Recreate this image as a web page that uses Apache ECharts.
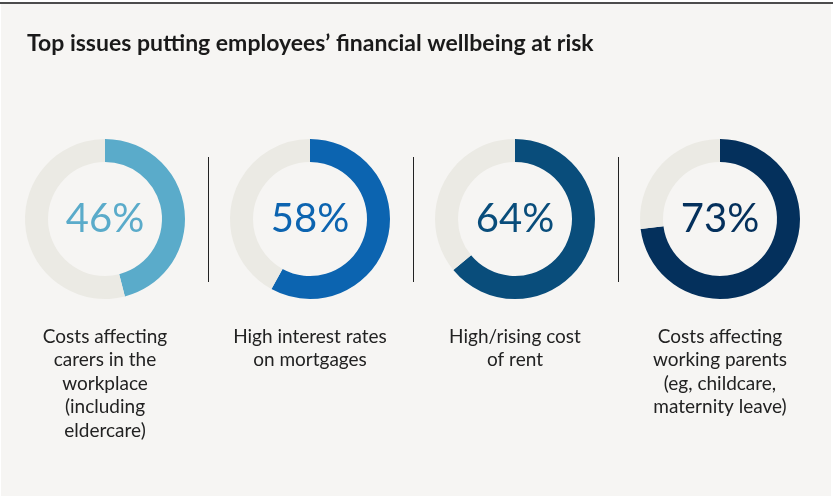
<!DOCTYPE html>
<html>
<head>
<meta charset="utf-8">
<script src="https://cdn.jsdelivr.net/npm/echarts@6/dist/echarts.min.js"></script>
<style>
  html, body { margin: 0; padding: 0; background: #ffffff; }
  #chart { width: 833px; height: 497px; }
</style>
</head>
<body>
<div id="chart"></div>
<script>
// Survey results: share of respondents naming each issue
const chartTitle = 'Top issues putting employees\u2019 financial wellbeing at risk';
const categories = [
  'Costs affecting\ncarers in the\nworkplace\n(including\neldercare)',
  'High interest rates\non mortgages',
  'High/rising cost\nof rent',
  'Costs affecting\nworking parents\n(eg, childcare,\nmaternity leave)'
];
const percentages = [46, 58, 64, 73];
const ringColors = ['#5aabca', '#0c64b0', '#094d7b', '#04305c'];

const trackColor = '#ebeae4';
const panelColor = '#f6f5f3';
const centersX = [105, 310, 515, 720];
const centerY = 219;
const fontFamily = 'Lato, "Open Sans", sans-serif';

const chart = echarts.init(document.getElementById('chart'), null, { renderer: 'canvas' });

const series = percentages.map((v, i) => ({
  type: 'pie',
  center: [centersX[i], centerY],
  radius: [57, 80],
  startAngle: 90,
  clockwise: true,
  silent: true,
  avoidLabelOverlap: false,
  labelLine: { show: false },
  emphasis: { disabled: true },
  data: [
    {
      value: v,
      itemStyle: { color: ringColors[i] },
      label: {
        show: true,
        position: 'center',
        formatter: '{c}%',
        fontFamily: fontFamily,
        fontSize: 40,
        fontWeight: 'normal',
        color: ringColors[i],
        padding: [4, 0, 0, 0]
      }
    },
    {
      value: 100 - v,
      itemStyle: { color: trackColor },
      label: { show: false }
    }
  ]
}));

const graphics = [
  // panel and top rule
  { type: 'rect', z: -10, shape: { x: 1, y: 4, width: 830, height: 492 }, style: { fill: panelColor } },
  { type: 'line', shape: { x1: 0, y1: 3, x2: 833, y2: 3 }, style: { stroke: '#111111', lineWidth: 1.5 } },
  {
    type: 'text', x: 27, y: 44,
    style: {
      text: chartTitle, fill: '#1a1a1a', font: 'bold 23px ' + fontFamily,
      verticalAlign: 'middle', align: 'left'
    }
  }
];

// dividers between the rings
for (let i = 0; i < centersX.length - 1; i++) {
  const x = Math.round((centersX[i] + centersX[i + 1]) / 2) + 0.5;
  graphics.push({
    type: 'line', shape: { x1: x, y1: 157, x2: x, y2: 282 },
    style: { stroke: '#222222', lineWidth: 1 }
  });
}

// category captions under each ring
categories.forEach((c, i) => {
  graphics.push({
    type: 'text', x: centersX[i], y: 325,
    style: {
      text: c, fill: '#222222', font: '19px ' + fontFamily,
      align: 'center', verticalAlign: 'top', lineHeight: 23.5
    }
  });
});

chart.setOption({
  backgroundColor: 'transparent',
  animation: false,
  graphic: graphics,
  series: series
});
</script>
</body>
</html>
